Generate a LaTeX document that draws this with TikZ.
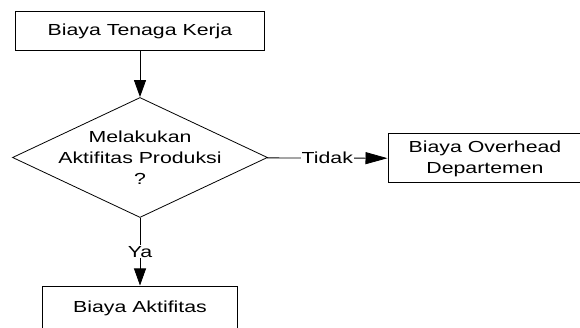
\documentclass[tikz,border=0pt]{standalone}
\usepackage{fontspec}
\newfontfamily\diagfont{Liberation Sans}[FakeStretch=1.33]
\usetikzlibrary{arrows.meta, shapes.geometric}

\tikzset{
  box/.style={draw, line width=1pt, minimum width=249pt, minimum height=39pt, inner sep=0pt, align=center},
  decision/.style={draw, diamond, line width=0.8pt, minimum width=255pt, minimum height=120pt, inner sep=0pt},
  conn/.style={line width=0.8pt, -{Triangle[length=17pt,width=12pt]}},
  hconn/.style={line width=0.8pt, -{Triangle[length=22pt,width=12pt]}},
  lab/.style={fill=white, inner sep=1pt}
}

\begin{document}
\begin{tikzpicture}[x=1pt, y=-1pt, font=\diagfont\fontsize{16}{21}\selectfont]
    \useasboundingbox (0,0) rectangle (580,328);
    \clip (0,0) rectangle (580,328);

    \node[box] (kerja) at (140,31.5) {Biaya Tenaga Kerja};
    \node[decision] (produksi) at (140,157.5) {};
    \node[align=center] (produksitext) at (produksi) {Melakukan\\Aktifitas Produksi\\?};
    \node[box, minimum width=194pt, minimum height=49pt] (overhead) at (485,158.5) {Biaya Overhead\\Departemen};
    \node[box, minimum width=195pt, minimum height=44pt] (aktifitas) at (140,308) {Biaya Aktifitas};

    \draw[conn] (kerja) -- (produksi);
    \draw[hconn] (produksi) -- node[lab] {Tidak} (overhead);
    \draw[conn] (produksi) -- node[lab] {Ya} (aktifitas);
\end{tikzpicture}
\end{document}
